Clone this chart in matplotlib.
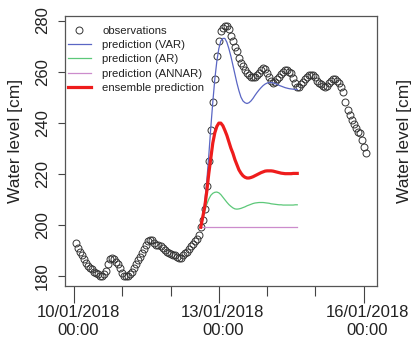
import matplotlib
matplotlib.use("Agg")
import matplotlib.pyplot as plt
import matplotlib.dates as mdates
import matplotlib.transforms as mtransforms
import pandas as pd

plt.rcParams['font.family'] = ['Liberation Sans', 'DejaVu Sans']

# hourly observed water level [cm], from 10/01/2018 01:00
obs = [193, 191, 189.5, 188, 186.5, 185, 184, 183, 182.5, 181.5,
       181, 180.5, 180, 180, 180.5, 182, 184.5, 186.5, 187, 186.5,
       185.5, 184.5, 183, 181, 180, 180, 180, 180.5, 181.5, 183,
       184.5, 186, 187.5, 189, 190.5, 192, 193.5, 194, 194, 193,
       192, 192, 191.5, 191, 190, 189.5, 189, 188.5, 188, 188,
       187.5, 187, 187, 188, 189, 189.5, 190.5, 191.5, 192.5, 193.5,
       194.5, 196, 199, 202, 206, 215, 225, 237, 248, 257,
       266, 272, 276, 277, 278, 278, 276.5, 274, 272, 269.5,
       268, 265.5, 263.5, 262, 260.5, 259.5, 258.5, 258, 258, 258,
       258.5, 259.5, 260.5, 261.5, 261, 259.5, 258, 256.5, 255.5, 256,
       257, 258, 259, 260, 260.5, 260.5, 260, 259.5, 257.5, 255.5,
       254, 254, 255, 256, 257, 258, 258.5, 258.5, 258.5, 258,
       256.5, 255.5, 255, 254.5, 254, 254.5, 255.5, 256.5, 257, 257,
       256.5, 255.5, 254, 252, 248, 245, 243, 241, 239.5, 238,
       236.5, 236, 233, 230.5, 228]

# 48 h forecasts, hourly, from 12/01/2018 15:00
pred_var = [199, 203, 209, 217, 227, 238, 248, 257, 264, 269,
            272, 273, 273, 271.5, 269, 266, 262.5, 259, 255.5, 252.5,
            250, 248.5, 247.8, 247.5, 247.8, 248.5, 249.5, 250.7, 251.8, 252.8,
            253.7, 254.5, 255.1, 255.5, 255.7, 255.7, 255.6, 255.3, 255, 254.6,
            254.3, 254, 253.7, 253.5, 253.3, 253.2, 253.1, 253, 253]
pred_ar = [199, 202, 205.5, 208, 210, 211.5, 212.3, 212.7, 212.8, 212.5,
           211.8, 210.8, 209.8, 208.8, 207.9, 207.2, 206.6, 206.2, 206.1, 206.2,
           206.4, 206.7, 207, 207.4, 207.7, 208, 208.3, 208.5, 208.6, 208.7,
           208.7, 208.7, 208.6, 208.5, 208.4, 208.2, 208.1, 208, 207.9, 207.8,
           207.8, 207.7, 207.7, 207.7, 207.7, 207.7, 207.7, 207.8, 207.8]
pred_annar = [199] * 49
pred_ens = [199, 203, 207, 213, 220, 226, 232, 236, 238.5, 239.8,
            239.8, 238.8, 237, 235, 232.5, 230, 228, 225.5, 223.5, 221.5,
            220.2, 219.2, 218.6, 218.3, 218.3, 218.5, 218.8, 219.2, 219.6, 220,
            220.4, 220.7, 221, 221.1, 221.1, 221.1, 221, 220.8, 220.6, 220.4,
            220.2, 220.1, 220, 220, 220, 220, 220.1, 220.1, 220.1]

t_obs = pd.date_range('2018-01-10 01:00', periods=len(obs), freq='h')
t_pred = pd.date_range('2018-01-12 15:00', periods=len(pred_var), freq='h')

fig = plt.figure(figsize=(4.11, 3.39), dpi=100)
ax = fig.add_axes([65 / 411, 1 - 285.7 / 339, 312 / 411, 270 / 339])

ax.plot(t_obs, obs, 'o', mfc='none', mec='#333333', ms=5, mew=0.7,
        label='observations')
ax.plot(t_pred, pred_var, color='#5a66c4', lw=0.9, label='prediction (VAR)')
ax.plot(t_pred, pred_ar, color='#5cc879', lw=0.9, label='prediction (AR)')
ax.plot(t_pred, pred_annar, color='#cc8ccc', lw=0.9, label='prediction (ANNAR)')
ax.plot(t_pred, pred_ens, color='#ee1c1c', lw=2.3, label='ensemble prediction')

ax.set_xlim(pd.Timestamp('2018-01-09 19:30'), pd.Timestamp('2018-01-16 06:40'))
ax.set_ylim(176.1, 281.9)

ax.set_yticks([180, 200, 220, 240, 260, 280])
ax.tick_params(axis='y', length=5, width=0.8, color='#444444', pad=6,
               labelsize=12, labelrotation=90, labelcolor='#222222')
for lab in ax.get_yticklabels():
    lab.set_va('center')

ax.xaxis.set_major_locator(mdates.DayLocator(bymonthday=[10, 13, 16]))
ax.xaxis.set_major_formatter(mdates.DateFormatter('%d/%m/%Y\n%H:%M'))
ax.xaxis.set_minor_locator(mdates.DayLocator())
ax.tick_params(axis='x', which='major', length=12, width=0.8, color='#444444',
               pad=2, labelsize=12, labelcolor='#222222')
ax.tick_params(axis='x', which='minor', length=7, width=0.8, color='#444444')
shift = mtransforms.ScaledTranslation(0.04, 0, fig.dpi_scale_trans)
for lab in ax.get_xticklabels():
    lab.set_transform(lab.get_transform() + shift)

for s in ax.spines.values():
    s.set_color('#555555')
    s.set_linewidth(0.9)

fig.text(15.5 / 411, 1 - 141 / 339, 'Water level [cm]', rotation=90,
         ha='center', va='center', fontsize=12.5, color='#222222')
fig.text(404.5 / 411, 1 - 141 / 339, 'Water level [cm]', rotation=90,
         ha='center', va='center', fontsize=12.5, color='#222222')

ax.legend(loc='upper left', bbox_to_anchor=(0.0096, 0.961), frameon=False,
          fontsize=8.2, handlelength=2.0, handletextpad=1.0,
          labelspacing=0.36, borderaxespad=0, borderpad=0,
          labelcolor='#222222')

fig.savefig('out.png', dpi=100)
